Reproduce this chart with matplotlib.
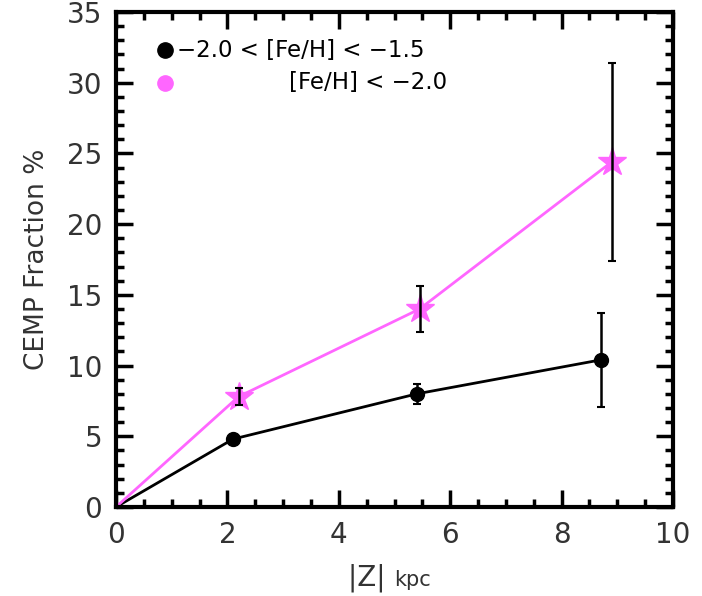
import matplotlib
matplotlib.use("Agg")
import matplotlib.pyplot as plt
from matplotlib.ticker import MultipleLocator

# data
z_mid = [0.0, 2.1, 5.4, 8.7]
frac_mid = [0.0, 4.8, 8.0, 10.4]
err_mid = [0.0, 0.3, 0.7, 3.3]

z_low = [0.0, 2.2, 5.45, 8.9]
frac_low = [0.0, 7.8, 14.0, 24.4]
err_low = [0.0, 0.6, 1.6, 7.0]

label_mid = "\u22122.0 < [Fe/H] < \u22121.5"
label_low = "[Fe/H] < \u22122.0"

plt.rcParams['font.family'] = ['DejaVu Sans']
fig = plt.figure(figsize=(7.02, 5.96), dpi=100)
ax = fig.add_axes([116/702, 1-507/596, (673-116)/702, (507-12)/596])

mag = '#ff66ff'
ax.plot(z_mid, frac_mid, color='black', lw=2)
ax.plot(z_mid[1:], frac_mid[1:], 'o', color='black', ms=10)
ax.errorbar(z_mid[1:], frac_mid[1:], yerr=err_mid[1:], fmt='none',
            ecolor='black', elinewidth=1.8, capsize=3, capthick=1.5)

ax.plot(z_low, frac_low, color=mag, lw=2)
ax.plot(z_low[1:], frac_low[1:], '*', color=mag, ms=21)
ax.errorbar(z_low[1:], frac_low[1:], yerr=err_low[1:], fmt='none',
            ecolor='black', elinewidth=1.8, capsize=3, capthick=1.5, zorder=3)

ax.set_xlim(0, 10)
ax.set_ylim(0, 35)
ax.xaxis.set_major_locator(MultipleLocator(2))
ax.xaxis.set_minor_locator(MultipleLocator(0.5))
ax.yaxis.set_major_locator(MultipleLocator(5))
ax.yaxis.set_minor_locator(MultipleLocator(1))
ax.tick_params(which='both', direction='in', top=True, right=True, width=2.5)
ax.tick_params(which='major', length=12, labelsize=20, pad=10, colors='black')
ax.tick_params(which='minor', length=6)
for lab in ax.get_xticklabels() + ax.get_yticklabels():
    lab.set_color('#333333')
for s in ax.spines.values():
    s.set_linewidth(3)

ax.set_ylabel("CEMP Fraction %", fontsize=19, color='#333333', labelpad=12)
fig.text((116+673)/2/702, 1-578/596, "|Z| ", fontsize=20, color='#333333', ha='right', va='center')
fig.text((116+673)/2/702, 1-580/596, "kpc", fontsize=15, color='#333333', ha='left', va='center')

# legend
ax.plot([0.88], [32.3], 'o', color='black', ms=11, clip_on=False)
ax.plot([0.88], [30.0], 'o', color=mag, ms=11, clip_on=False)
ax.text(1.1, 32.3, label_mid, fontsize=16.5, va='center', ha='left')
ax.text(5.95, 30.0, label_low, fontsize=16.5, va='center', ha='right')

fig.savefig("out.png", dpi=100)
